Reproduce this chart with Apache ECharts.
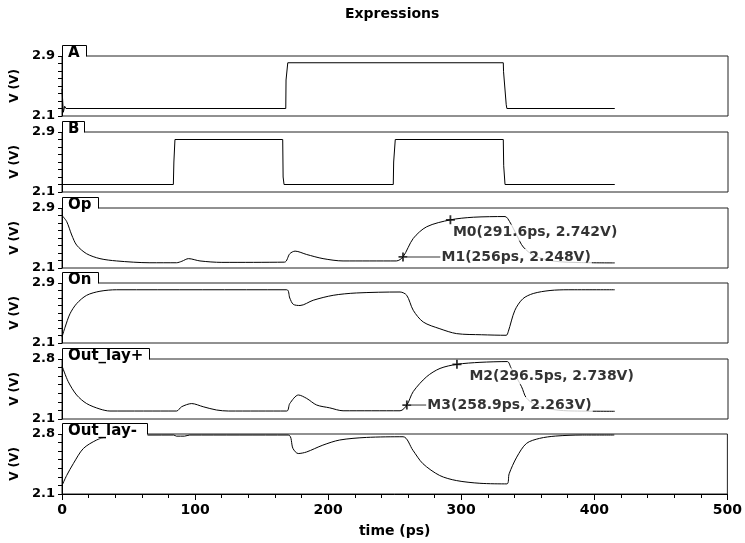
<!DOCTYPE html>
<html>
<head>
<meta charset="utf-8">
<title>Expressions</title>
<script src="https://cdn.jsdelivr.net/npm/echarts@6/dist/echarts.min.js"></script>
<style>
  html, body { margin: 0; padding: 0; background: #fff; }
  #chart { width: 745px; height: 543px; }
</style>
</head>
<body>
<div id="chart"></div>
<script>
// time in ps, voltage in V
const tA = [0, 1, 2, 3, 168, 168.2, 169.5, 331.3, 331.5, 333.5, 334, 415];
const vA = [2.46, 2.15, 2.23, 2.2, 2.2, 2.58, 2.81, 2.81, 2.69, 2.25, 2.2, 2.2];

const tB = [0, 83.6, 84, 84.8, 165.7, 166, 166.7, 248.7, 249, 250.2, 331.3, 331.6, 332.6, 415];
const vB = [2.2, 2.2, 2.5, 2.8, 2.8, 2.3, 2.2, 2.2, 2.5, 2.8, 2.8, 2.45, 2.2, 2.2];

const tOp = [0, 3.5, 7.3, 11, 18.5, 28.5, 41, 66, 86, 90, 95, 103.6, 120, 167, 171, 175, 183.7, 196, 211, 251,
  256, 263.7, 273.8, 291.6, 308.8, 332.6, 336, 341.3, 346.3, 355, 370, 390, 415];
const vOp = [2.8, 2.72, 2.54, 2.405, 2.29, 2.225, 2.194, 2.17, 2.17, 2.19, 2.225, 2.194, 2.175, 2.178, 2.29, 2.325, 2.28, 2.225, 2.194, 2.194,
  2.248, 2.494, 2.65, 2.742, 2.777, 2.786, 2.72, 2.54, 2.38, 2.26, 2.19, 2.172, 2.168];

const tOn = [0, 2.3, 6, 11, 18.5, 28.5, 41, 168.7, 171, 173.6, 178.7, 188.6, 203.6, 221, 253.8, 258.8, 263.7, 271.2,
  283.7, 296.3, 315, 333.5, 335, 340, 346, 353.8, 366.4, 380, 415];
const vOn = [2.18, 2.31, 2.49, 2.625, 2.736, 2.79, 2.81, 2.81, 2.7, 2.616, 2.6, 2.67, 2.736, 2.767, 2.78, 2.736, 2.536, 2.38,
  2.29, 2.225, 2.21, 2.203, 2.25, 2.536, 2.69, 2.76, 2.8, 2.81, 2.81];

const tOutP = [0, 4.7, 11, 18.5, 28.5, 36, 86, 89.8, 97.4, 106, 116, 125, 168.7, 171, 177.5, 183.7, 191.2, 201, 211, 253.8,
  258.9, 263.7, 273.8, 283.8, 296.5, 313.8, 334.3, 337, 345, 348.5, 355, 365, 380, 415];
const vOutP = [2.72, 2.535, 2.38, 2.28, 2.216, 2.193, 2.193, 2.243, 2.28, 2.243, 2.205, 2.193, 2.193, 2.28, 2.38, 2.34, 2.263, 2.23, 2.196, 2.196,
  2.263, 2.42, 2.594, 2.69, 2.738, 2.761, 2.77, 2.7, 2.477, 2.348, 2.27, 2.22, 2.195, 2.19];

const tOutN = [0, 3.5, 8.5, 16, 26, 33.5, 45, 84, 86, 92, 96, 170, 173.6, 177.5, 183.7, 196, 208.7, 228.7, 256.3, 263.7,
  271.2, 283.8, 296.3, 314, 334.3, 336, 341.7, 349, 358.9, 371, 391, 415];
const vOutN = [2.198, 2.316, 2.454, 2.63, 2.73, 2.768, 2.785, 2.788, 2.775, 2.775, 2.788, 2.788, 2.63, 2.572, 2.59, 2.67, 2.73, 2.76, 2.768, 2.61,
  2.454, 2.316, 2.257, 2.225, 2.218, 2.336, 2.53, 2.69, 2.749, 2.776, 2.788, 2.788];

// markers
const opMarkNames = ['M0', 'M1'];
const opMarkT = [291.6, 256];
const opMarkV = [2.742, 2.248];
const outMarkNames = ['M2', 'M3'];
const outMarkT = [296.5, 258.9];
const outMarkV = [2.738, 2.263];

const panelNames = ['A', 'B', 'Op', 'On', 'Out_lay+', 'Out_lay-'];
const yMinLabel = 2.1;
const yMaxLabels = [2.9, 2.9, 2.9, 2.9, 2.8, 2.8];
const xTickLabels = [0, 100, 200, 300, 400, 500];

const FONT = 'DejaVu Sans';
const gridTops = [56, 132, 208, 283, 359, 434];
const gridHeight = 60;
const tabWidths = [24, 22, 36, 36, 87, 85];
const markLabelStyle = {
  M0: { lead: 0, dx: -3, dy: 13 },
  M1: { lead: 33, dx: 0, dy: 0 },
  M2: { lead: 0, dx: 7, dy: 12 },
  M3: { lead: 15, dx: 0, dy: 0 }
};

const waves = [[tA, vA], [tB, vB], [tOp, vOp], [tOn, vOn], [tOutP, vOutP], [tOutN, vOutN]];
const pairs = (t, v) => t.map((x, i) => [x, v[i]]);

function markerSeries(gridIndex, names, ts, vs) {
  return {
    type: 'scatter',
    xAxisIndex: gridIndex,
    yAxisIndex: gridIndex,
    z: 5,
    symbol: 'path://M4,0h2v4h4v2h-4v4h-2v-4h-4v-2h4z',
    symbolSize: 9,
    itemStyle: { color: '#000' },
    data: names.map((n, i) => {
      const st = markLabelStyle[n];
      const text = n + '(' + ts[i] + 'ps, ' + vs[i] + 'V)';
      return {
        value: [ts[i], vs[i]],
        label: {
          show: true,
          position: 'right',
          distance: 0,
          offset: [st.dx, st.dy],
          formatter: st.lead ? '{l| }{t|' + text + '}' : '{t|' + text + '}',
          rich: {
            l: { width: st.lead, height: 1, backgroundColor: '#000', verticalAlign: 'middle', fontSize: 1 },
            t: { fontFamily: FONT, fontWeight: 'bold', fontSize: 14, color: '#000', backgroundColor: '#fff', padding: [1, 1, 1, 1] }
          }
        }
      };
    })
  };
}

const chart = echarts.init(document.getElementById('chart'));

const axisFont = { fontFamily: FONT, fontWeight: 'bold', color: '#000' };

const option = {
  animation: false,
  backgroundColor: '#fff',
  title: {
    text: 'Expressions',
    left: 345,
    top: 7,
    padding: 0,
    textStyle: { fontFamily: FONT, fontWeight: 'bold', fontSize: 14, color: '#000' }
  },
  grid: gridTops.map(top => ({
    left: 62,
    right: 17,
    top: top,
    height: gridHeight,
    show: true,
    borderColor: '#222',
    borderWidth: 1
  })),
  xAxis: gridTops.map((_, i) => {
    const last = i === gridTops.length - 1;
    return {
      type: 'value',
      gridIndex: i,
      min: xTickLabels[0],
      max: xTickLabels[xTickLabels.length - 1],
      interval: 100,
      splitLine: { show: false },
      axisLine: { show: last, lineStyle: { color: '#000' } },
      axisTick: { show: last, length: 6, lineStyle: { color: '#000' } },
      minorTick: { show: last, splitNumber: 5, length: 4, lineStyle: { color: '#000' } },
      axisLabel: Object.assign({ show: last, margin: 9, fontSize: 14 }, axisFont),
      name: last ? 'time (ps)' : '',
      nameLocation: 'middle',
      nameGap: 30,
      nameTextStyle: Object.assign({ fontSize: 14 }, axisFont)
    };
  }),
  yAxis: gridTops.map((_, i) => {
    const ticks = [];
    for (let k = 0; yMinLabel + k * 0.1 <= yMaxLabels[i] + 1e-6; k++) {
      ticks.push(+(yMinLabel + k * 0.1).toFixed(1));
    }
    return {
      type: 'value',
      gridIndex: i,
      min: yMinLabel,
      max: yMaxLabels[i],
      splitLine: { show: false },
      axisLine: { show: true, lineStyle: { color: '#000' } },
      axisTick: { show: true, length: 4, customValues: ticks, lineStyle: { color: '#000' } },
      axisLabel: Object.assign({
        customValues: [yMinLabel, yMaxLabels[i]],
        formatter: v => v.toFixed(1),
        margin: 7,
        fontSize: 13,
        padding: [5, 0, 0, 0]
      }, axisFont),
      name: 'V (V)',
      nameLocation: 'middle',
      nameRotate: 90,
      nameGap: 38,
      nameTextStyle: Object.assign({ fontSize: 12 }, axisFont)
    };
  }),
  graphic: panelNames.flatMap((name, i) => {
    const top = gridTops[i];
    const right = 62 + tabWidths[i];
    return [
      {
        type: 'rect', z: 100,
        shape: { x: 63, y: top - 10, width: tabWidths[i] - 0.5, height: 14.5 },
        style: { fill: '#fff' }
      },
      {
        type: 'polyline', z: 101,
        shape: { points: [[62.5, top + 0.5], [62.5, top - 10.5], [right + 0.5, top - 10.5], [right + 0.5, top + 0.5]] },
        style: { stroke: '#000', fill: null, lineWidth: 1 }
      },
      {
        type: 'text', z: 102, x: 68, y: top - 2.5,
        style: { text: name, font: 'bold 15px "DejaVu Sans"', fill: '#000', verticalAlign: 'middle' }
      }
    ];
  }),
  series: waves.map((w, i) => ({
    type: 'line',
    name: panelNames[i],
    xAxisIndex: i,
    yAxisIndex: i,
    data: pairs(w[0], w[1]),
    symbol: 'none',
    smooth: i >= 2 ? 0.3 : false,
    lineStyle: { color: '#000', width: 1 },
    z: 2
  })).concat([
    markerSeries(2, opMarkNames, opMarkT, opMarkV),
    markerSeries(4, outMarkNames, outMarkT, outMarkV)
  ])
};

chart.setOption(option);
</script>
</body>
</html>
